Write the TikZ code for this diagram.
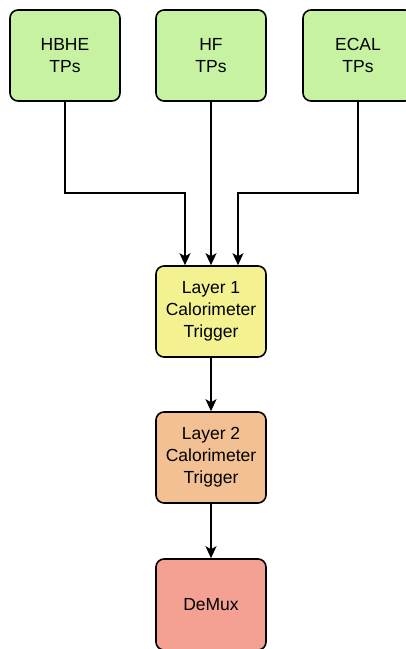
\documentclass[tikz,border=0pt]{standalone}
\usepackage{fontspec}
\setmainfont{Liberation Sans}
\usetikzlibrary{arrows.meta}
\definecolor{cgreen}{RGB}{198,242,162}
\definecolor{cyellow}{RGB}{243,241,144}
\definecolor{corange}{RGB}{242,192,146}
\definecolor{cred}{RGB}{244,161,147}
\begin{document}
\begin{tikzpicture}[x=1pt,y=-1pt,
  blk/.style={draw=black, line width=1.6pt, rounded corners=8pt, minimum width=110pt, minimum height=91pt, inner sep=0pt, align=center, font=\fontsize{17.5}{22}\selectfont},
  conn/.style={line width=1.5pt, -{Stealth[length=12pt,width=11pt,inset=3pt]}}]
\useasboundingbox (0,0) rectangle (405,649);
\node[blk, fill=cgreen] (hbhe) at (65,55.5) {HBHE\\TPs};
\node[blk, fill=cgreen] (hf) at (211,55.5) {HF\\TPs};
\node[blk, fill=cgreen] (ecal) at (358,55.5) {ECAL\\TPs};
\node[blk, fill=cyellow] (l1) at (211,311.5) {Layer 1\\Calorimeter\\Trigger};
\node[blk, fill=corange] (l2) at (211,457.5) {Layer 2\\Calorimeter\\Trigger};
\node[blk, fill=cred] (demux) at (211,604.5) {DeMux};
\draw[conn] (hbhe.south) |- (185,193) -- (l1.north -| 185,0);
\draw[conn] (hf.south) -- (l1.north);
\draw[conn] (ecal.south) |- (238,193) -- (l1.north -| 238,0);
\draw[conn] (l1.south) -- (l2.north);
\draw[conn] (l2.south) -- (demux.north);
\end{tikzpicture}
\end{document}
